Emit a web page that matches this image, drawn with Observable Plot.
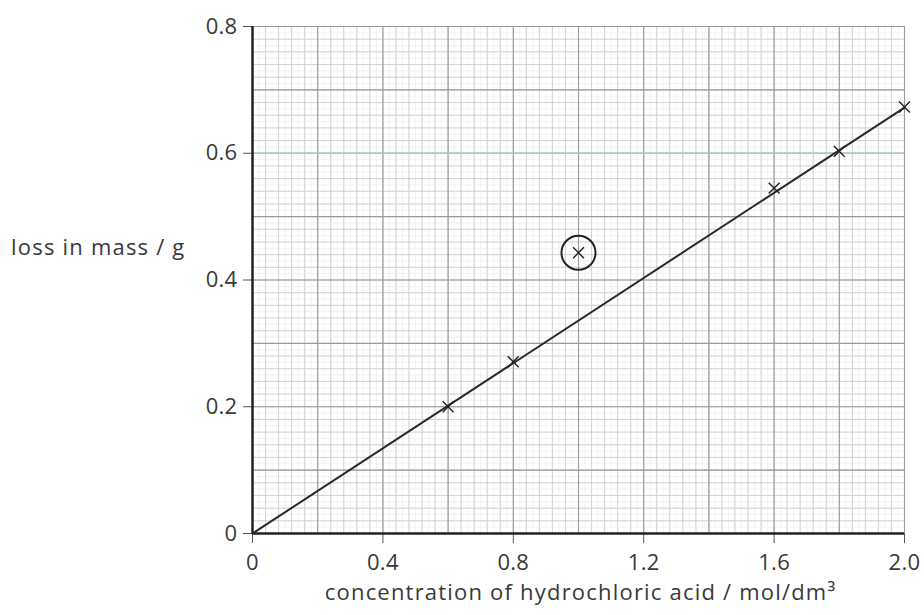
<!DOCTYPE html>
<html><head><meta charset="utf-8">
<script src="https://cdn.jsdelivr.net/npm/d3@7"></script>
<script src="https://cdn.jsdelivr.net/npm/@observablehq/plot@0.6"></script>
<style>
body{margin:0;background:#fff;}
#chart svg{display:block;}
#chart g[aria-label="text"] text{letter-spacing:1.2px;}
#chart g[aria-label$="tick label"] text{letter-spacing:0.3px;}
</style>
</head><body><div id="chart"></div>
<script>
// data
const concentration = [0.6, 0.8, 1.0, 1.6, 1.8, 2.0];
const lossInMass    = [0.200, 0.271, 0.443, 0.545, 0.603, 0.673];
const anomalous     = [false, false, true, false, false, false];
const fitX = [0, 2.0];
const fitY = [0, 0.672];
const xTicks = [0, 0.4, 0.8, 1.2, 1.6, 2.0];
const xTickLabels = ["0", "0.4", "0.8", "1.2", "1.6", "2.0"];
const yTicks = [0, 0.2, 0.4, 0.6, 0.8];
const yTickLabels = ["0", "0.2", "0.4", "0.6", "0.8"];
const xLabel = "concentration of hydrochloric acid / mol/dm³";
const yLabel = "loss in mass / g";
const highlightY = [0.6];

const points = concentration.map((c, i) => ({x: c, y: lossInMass[i], odd: anomalous[i]}));
const fit = fitX.map((x, i) => ({x, y: fitY[i]}));

// graph-paper grid lines
const fineX = d3.range(0, 2.0001, 0.02);
const fineY = d3.range(0, 0.8001, 0.01);
const minorX = d3.range(0, 2.0001, 0.04);
const minorY = d3.range(0, 0.8001, 0.02);
const majorX = d3.range(0, 2.0001, 0.2);
const majorY = d3.range(0, 0.8001, 0.1);

const font = "'Open Sans', 'Noto Sans', sans-serif";

const chart = Plot.plot({
  width: 924,
  height: 615,
  marginLeft: 252,
  marginRight: 20,
  marginTop: 26,
  marginBottom: 82,
  style: {fontFamily: font, fontSize: "22px", color: "#3a3a3a", background: "#fff"},
  x: {domain: [0, 2.0]},
  y: {domain: [0, 0.8]},
  marks: [
    Plot.ruleX(fineX, {stroke: "#ebebeb", strokeWidth: 0.6}),
    Plot.ruleY(fineY, {stroke: "#ebebeb", strokeWidth: 0.6}),
    Plot.ruleX(minorX, {stroke: "#cfcfcf", strokeWidth: 0.9}),
    Plot.ruleY(minorY, {stroke: "#cfcfcf", strokeWidth: 0.9}),
    Plot.ruleX(majorX, {stroke: "#9a9a9a", strokeWidth: 1.1}),
    Plot.ruleY(majorY, {stroke: "#9a9a9a", strokeWidth: 1.1}),
    Plot.ruleY(highlightY, {stroke: "#9ad3bf", strokeWidth: 1.6}),
    Plot.axisX(xTicks, {
      tickSize: 10, tickPadding: 11, fontSize: 22, stroke: "#555",
      tickFormat: d => xTickLabels[xTicks.indexOf(d)], label: null
    }),
    Plot.axisY(yTicks, {
      tickSize: 9, tickPadding: 6, fontSize: 22, stroke: "#555",
      tickFormat: d => yTickLabels[yTicks.indexOf(d)], label: null
    }),
    Plot.ruleX([0], {stroke: "#222", strokeWidth: 2.5}),
    Plot.ruleY([0], {stroke: "#222", strokeWidth: 2.5}),
    Plot.line(fit, {x: "x", y: "y", stroke: "#2a2a2a", strokeWidth: 2}),
    Plot.dot(points, {x: "x", y: "y", symbol: "times", r: 5, stroke: "#222", strokeWidth: 1.4}),
    Plot.dot(points.filter(d => d.odd), {x: "x", y: "y", r: 17, stroke: "#222", strokeWidth: 2, fill: "none"}),
    Plot.text([yLabel], {x: 0, y: 0.45, text: d => d, textAnchor: "end", dx: -67, fontSize: 22, fill: "#3a3a3a"}),
    Plot.text([xLabel], {frameAnchor: "bottom", text: d => d, dy: 66, dx: 2, fontSize: 22, fill: "#3a3a3a"})
  ]
});
document.getElementById("chart").appendChild(chart);
</script>
</body></html>
